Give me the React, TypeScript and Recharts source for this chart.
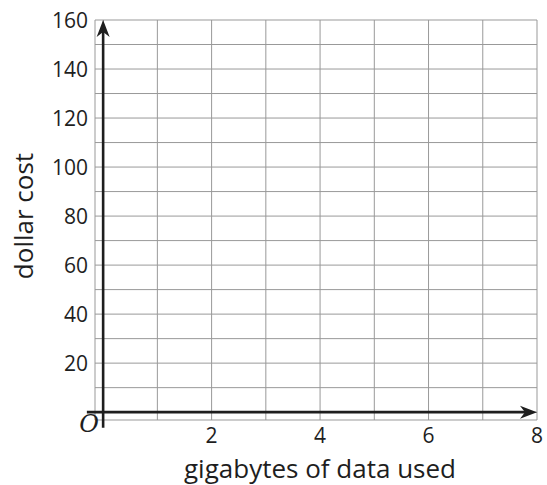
import { CartesianGrid, LineChart, ReferenceLine, XAxis, YAxis } from "recharts";

const xTicks = [0, 1, 2, 3, 4, 5, 6, 7, 8];
const xLabels = [2, 4, 6, 8];
const yTicks = [0, 10, 20, 30, 40, 50, 60, 70, 80, 90, 100, 110, 120, 130, 140, 150, 160];
const yLabels = [20, 40, 60, 80, 100, 120, 140, 160];

const font = "'Open Sans', sans-serif";
const ink = "#1e1e1e";

function Arrow(props: any) {
  const { x1, y1, x2, y2 } = props;
  const dx = x2 - x1;
  const dy = y2 - y1;
  const len = Math.sqrt(dx * dx + dy * dy) || 1;
  const ux = dx / len;
  const uy = dy / len;
  const px = -uy;
  const py = ux;
  const L = 17;
  const W = 6.5;
  const bx = x2 - ux * L;
  const by = y2 - uy * L;
  const nx = x2 - ux * (L - 5);
  const ny = y2 - uy * (L - 5);
  const pts = `${x2},${y2} ${bx + px * W},${by + py * W} ${nx},${ny} ${bx - px * W},${by - py * W}`;
  return (
    <g>
      <line x1={x1} y1={y1} x2={x2 - ux * 8} y2={y2 - uy * 8} stroke={ink} strokeWidth={2.6} />
      <polygon points={pts} fill={ink} />
    </g>
  );
}

function XTick(props: any) {
  const { x, payload } = props;
  if (payload.value === 0) {
    return (
      <text x={x - 14} y={432} textAnchor="middle" fontFamily="'DejaVu Serif', serif" fontStyle="italic" fontSize={24} fill={ink}>
        O
      </text>
    );
  }
  if (!xLabels.includes(payload.value)) return null;
  return (
    <text x={x} y={443} textAnchor="middle" fontFamily={font} fontSize={21} fill={ink}>
      {payload.value}
    </text>
  );
}

function YTick(props: any) {
  const { y, payload } = props;
  if (!yLabels.includes(payload.value)) return null;
  return (
    <text x={88} y={y + 8} textAnchor="end" fontFamily={font} fontSize={21} fill={ink}>
      {payload.value}
    </text>
  );
}

export default function App() {
  return (
    <div style={{ position: "absolute", left: 0, top: 0, width: 547, height: 485 }}>
      <LineChart width={547} height={485} data={[]} margin={{ top: 20, right: 10, left: 0, bottom: 0 }}>
        <CartesianGrid stroke="#999" strokeWidth={1} />
        <XAxis
          type="number"
          dataKey="x"
          domain={[-0.15, 8]}
          ticks={xTicks}
          allowDataOverflow
          axisLine={false}
          tickLine={false}
          height={65}
          tick={<XTick />}
          interval={0}
        />
        <YAxis
          type="number"
          domain={[-3.2, 160]}
          ticks={yTicks}
          allowDataOverflow
          axisLine={false}
          tickLine={false}
          width={95}
          tick={<YTick />}
          interval={0}
        />
        <ReferenceLine
          segment={[{ x: -0.3, y: 0 }, { x: 8, y: 0 }]}
          ifOverflow="visible"
          shape={<Arrow />}
        />
        <ReferenceLine
          segment={[{ x: 0, y: -6.4 }, { x: 0, y: 160 }]}
          ifOverflow="visible"
          shape={<Arrow />}
        />
      </LineChart>
      <div
        style={{
          position: "absolute",
          left: 0,
          top: 455,
          width: 547,
          paddingLeft: 93,
          boxSizing: "border-box",
          textAlign: "center",
          fontFamily: font,
          fontSize: 26,
          lineHeight: "26px",
          whiteSpace: "nowrap",
          color: ink,
        }}
      >
        gigabytes of data used
      </div>
      <div
        style={{
          position: "absolute",
          left: 23,
          top: 215.5,
          transform: "translate(-50%, -50%) rotate(-90deg)",
          whiteSpace: "nowrap",
          fontFamily: font,
          fontSize: 26,
          lineHeight: "26px",
          color: ink,
        }}
      >
        dollar cost
      </div>
    </div>
  );
}
